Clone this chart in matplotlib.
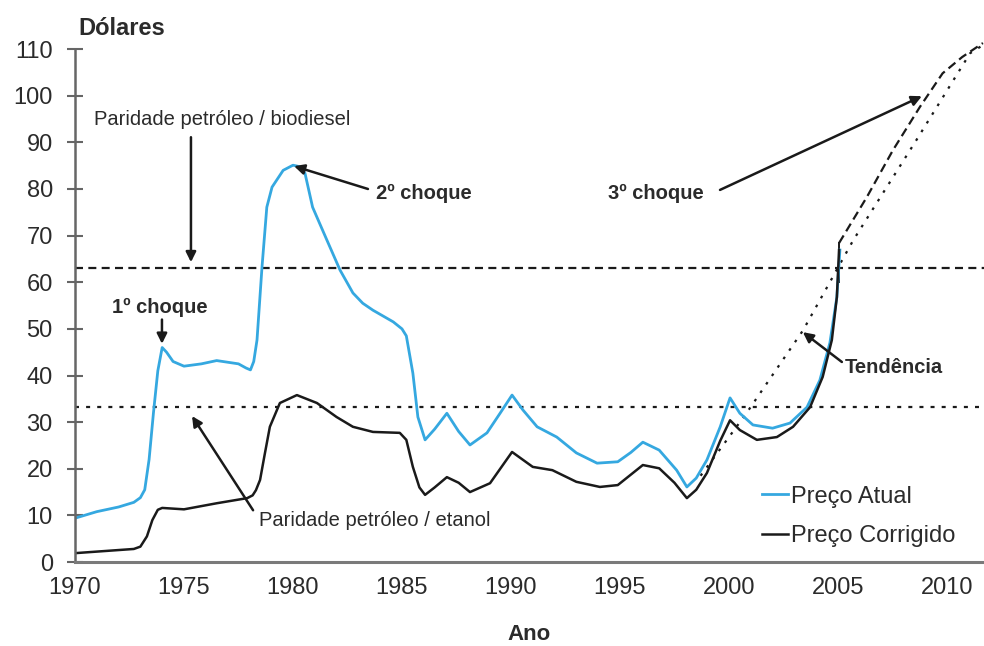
import matplotlib
matplotlib.use("Agg")
import matplotlib.pyplot as plt

plt.rcParams["font.family"] = ["Liberation Sans", "DejaVu Sans"]

# Preço Atual (blue)
anos_atual = [1970.0, 1971.0, 1972.0, 1972.7, 1973.0, 1973.2, 1973.4, 1973.6, 1973.8,
              1974.0, 1974.2, 1974.5, 1975.0, 1975.8, 1976.5, 1977.5, 1977.85, 1978.05,
              1978.2, 1978.35, 1978.58, 1978.8, 1979.04, 1979.55, 1980.0, 1980.3, 1980.55,
              1980.9, 1981.56, 1982.16, 1982.75, 1983.2, 1983.67, 1984.6, 1985.0, 1985.2,
              1985.5, 1985.73, 1986.06, 1986.5, 1987.06, 1987.6, 1988.12, 1988.9, 1989.5,
              1990.05, 1990.55, 1991.2, 1992.1, 1993.0, 1993.95, 1994.9, 1995.5, 1996.05,
              1996.8, 1997.6, 1998.07, 1998.5, 1998.99, 1999.6, 2000.05, 2000.5, 2001.1,
              2002.0, 2002.8, 2003.58, 2004.17, 2004.63, 2004.95, 2005.09]
preco_atual = [9.4, 10.8, 11.8, 12.8, 13.8, 15.5, 22.0, 32.0, 41.0,
               46.0, 45.0, 43.0, 42.0, 42.5, 43.2, 42.5, 41.6, 41.2,
               43.0, 47.6, 63.3, 76.1, 80.4, 84.0, 85.1, 84.8, 83.4,
               76.1, 69.0, 62.6, 57.7, 55.5, 54.0, 51.5, 50.0, 48.5,
               40.5, 31.1, 26.2, 28.5, 31.9, 28.0, 25.1, 27.7, 31.9,
               35.8, 32.6, 29.0, 26.8, 23.4, 21.2, 21.5, 23.5, 25.7,
               24.0, 19.7, 16.1, 18.0, 21.9, 29.0, 35.2, 31.9, 29.4,
               28.7, 29.8, 33.2, 39.0, 47.0, 56.8, 66.9]

# Preço Corrigido (black)
anos_corr = [1970.0, 1971.5, 1972.7, 1973.0, 1973.3, 1973.55, 1973.8, 1974.0, 1975.0,
             1976.5, 1977.9, 1978.15, 1978.3, 1978.49, 1978.7, 1978.94, 1979.4, 1980.18,
             1981.1, 1982.0, 1982.75, 1983.67, 1984.9, 1985.2, 1985.5, 1985.8, 1986.06,
             1986.5, 1987.06, 1987.6, 1988.12, 1989.04, 1990.05, 1991.0, 1991.9, 1993.0,
             1994.08, 1994.9, 1996.05, 1996.8, 1997.5, 1998.07, 1998.5, 1998.99, 1999.6,
             2000.05, 2000.5, 2001.28, 2002.2, 2002.94, 2003.72, 2004.3, 2004.72, 2004.95,
             2005.05]
preco_corr = [1.9, 2.4, 2.8, 3.3, 5.5, 9.0, 11.2, 11.6, 11.3,
              12.6, 13.7, 14.3, 15.4, 17.6, 23.0, 29.0, 34.1, 35.8,
              34.1, 31.1, 29.0, 27.9, 27.7, 26.2, 20.4, 16.0, 14.4,
              16.0, 18.2, 17.0, 15.0, 16.9, 23.6, 20.4, 19.7, 17.2,
              16.1, 16.5, 20.8, 20.1, 17.0, 13.7, 15.5, 19.1, 26.0,
              30.4, 28.3, 26.2, 26.8, 29.0, 33.2, 39.7, 47.6, 56.8,
              66.9]

# Tendência (dotted) and 3º choque projection (dashed)
anos_tendencia = [1998.7, 2000.8, 2003.4, 2005.7, 2008.6, 2011.06, 2011.7]
tendencia = [18.5, 31.9, 49.7, 69.0, 90.5, 109.1, 111.0]
anos_projecao = [2005.05, 2006.33, 2007.52, 2008.76, 2009.8, 2010.7, 2011.65]
projecao = [68.4, 78.3, 88.3, 97.6, 104.8, 108.3, 111.3]

paridade_biodiesel = 63.0
paridade_etanol = 33.3

anos_ticks = [1970, 1975, 1980, 1985, 1990, 1995, 2000, 2005, 2010]
dolares_ticks = list(range(0, 111, 10))

azul = "#35a8e0"
preto = "#1a1a1a"
texto = "#2b2b2b"

fig = plt.figure(figsize=(9.84, 6.46), dpi=100)
ax = fig.add_axes([0.0762, 0.130, 0.9238, 0.794])

ax.axhline(paridade_biodiesel, color=preto, lw=1.6, dashes=(3.6, 2.4))
ax.axhline(paridade_etanol, color=preto, lw=1.6, dashes=(1.8, 3.2))

ax.plot(anos_tendencia, tendencia, color=preto, lw=1.6, dashes=(1.2, 3.4), clip_on=False)
ax.plot(anos_projecao, projecao, color=preto, lw=1.6, dashes=(4.0, 2.2), clip_on=False)
ax.plot([2005.05, 2005.05], [60, 68.4], color=preto, lw=1.4)

ax.plot(anos_atual, preco_atual, color=azul, lw=2.0, label="Preço Atual")
ax.plot(anos_corr, preco_corr, color=preto, lw=1.8, label="Preço Corrigido")

ax.set_xlim(1970, 2011.7)
ax.set_ylim(0, 110)
ax.set_xticks(anos_ticks)
ax.set_yticks(dolares_ticks)
ax.tick_params(axis="x", length=0, pad=11, labelsize=17, labelcolor=texto)
ax.tick_params(axis="y", direction="inout", length=12, width=1.5, color="#666666",
               pad=10, labelsize=17, labelcolor=texto)
for side in ("top", "right"):
    ax.spines[side].set_visible(False)
ax.spines["left"].set_color("#666666")
ax.spines["left"].set_linewidth(1.8)
ax.spines["bottom"].set_color("#7a7a7a")
ax.spines["bottom"].set_linewidth(2.2)

ax.set_xlabel("Ano", fontsize=16, fontweight="bold", color=texto, labelpad=18)
ax.text(1970.15, 114.5, "Dólares", fontsize=17, fontweight="bold", color=texto,
        ha="left", va="center", clip_on=False)

seta = dict(arrowstyle="-|>,head_length=0.6,head_width=0.3", color=preto, lw=1.8,
            shrinkA=0, shrinkB=0)

ax.text(1976.74, 94.8, "Paridade petróleo / biodiesel", fontsize=14.5, color=texto,
        ha="center", va="center")
ax.annotate("", xy=(1975.32, 64.3), xytext=(1975.32, 91.1), arrowprops=seta)

ax.text(1973.9, 54.7, "1º choque", fontsize=14.5, fontweight="bold", color=texto,
        ha="center", va="center")
ax.annotate("", xy=(1973.99, 46.8), xytext=(1973.99, 52.0), arrowprops=seta)

ax.text(1983.81, 79.1, "2º choque", fontsize=14.5, fontweight="bold", color=texto,
        ha="left", va="center")
ax.annotate("", xy=(1980.05, 84.9), xytext=(1983.44, 80.0), arrowprops=seta)

ax.text(1994.45, 79.1, "3º choque", fontsize=14.5, fontweight="bold", color=texto,
        ha="left", va="center")
ax.annotate("", xy=(2008.85, 99.9), xytext=(1999.59, 79.8), arrowprops=seta)

ax.text(2005.32, 41.8, "Tendência", fontsize=14.5, fontweight="bold", color=texto,
        ha="left", va="center")
ax.annotate("", xy=(2003.39, 49.3), xytext=(2005.18, 42.9), arrowprops=seta)

ax.text(1978.44, 9.0, "Paridade petróleo / etanol", fontsize=14.5, color=texto,
        ha="left", va="center")
ax.annotate("", xy=(1975.37, 31.3), xytext=(1978.17, 11.1), arrowprops=seta)

ax.legend(loc="lower left", bbox_to_anchor=(0.745, 0.01), frameon=False, fontsize=17,
          handlelength=1.1, handletextpad=0.15, labelspacing=0.75, borderaxespad=0,
          labelcolor=texto)

fig.savefig("out.png", dpi=100)
